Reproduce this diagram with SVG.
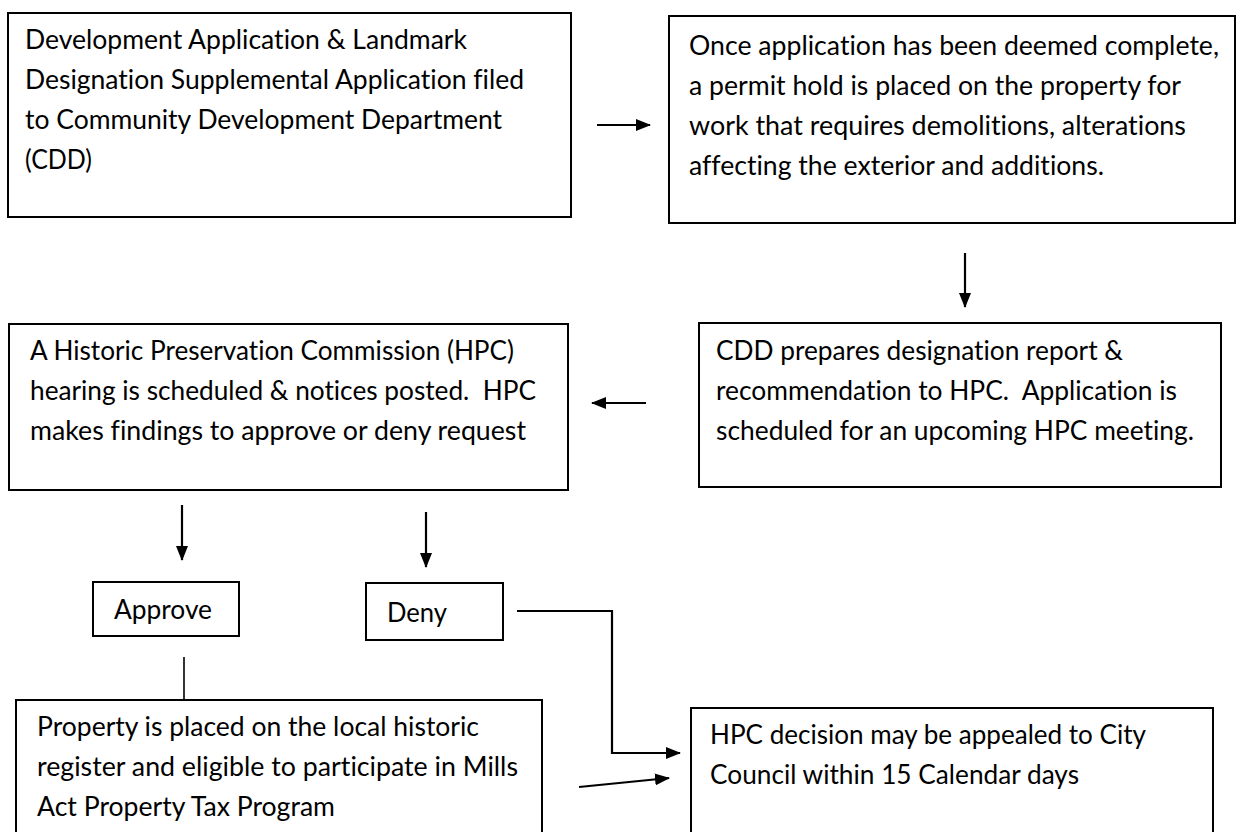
<svg xmlns="http://www.w3.org/2000/svg" width="1239" height="832" viewBox="0 0 1239 832">
<defs>
<style>
.box{fill:#fff;stroke:#000;stroke-width:2}
.t{font-family:Lato,"Liberation Sans",sans-serif;font-size:26px;fill:#000;white-space:pre;font-variant-ligatures:none;font-feature-settings:"liga" 0,"clig" 0,"dlig" 0}
.c{fill:none;stroke:#000;stroke-width:2.2}
</style>
<marker id="ah" markerUnits="userSpaceOnUse" markerWidth="15" markerHeight="12" refX="14" refY="6" orient="auto">
<path d="M0,0 L15,6 L0,12 Z" fill="#000"/>
</marker>
</defs>
<rect width="1239" height="832" fill="#fff"/>
<g id="connectors">
<line class="c" x1="597" y1="125" x2="650" y2="125" marker-end="url(#ah)"/>
<line class="c" x1="965" y1="253" x2="965" y2="307" marker-end="url(#ah)"/>
<line class="c" x1="646" y1="403" x2="592" y2="403" marker-end="url(#ah)"/>
<line class="c" x1="182" y1="505" x2="182" y2="560" marker-end="url(#ah)"/>
<line class="c" x1="426" y1="512" x2="426" y2="567" marker-end="url(#ah)"/>
<line class="c" x1="184" y1="657" x2="184" y2="700" style="stroke-width:1.6"/>
<polyline class="c" points="517,611 612,611 612,753 680,753" marker-end="url(#ah)"/>
<line class="c" x1="579" y1="787" x2="669" y2="778" marker-end="url(#ah)"/>
</g>
<g id="n1">
<rect class="box" x="8" y="13" width="563" height="204"/>
<text class="t" x="25" y="49" textLength="442" lengthAdjust="spacingAndGlyphs">Development Application &amp; Landmark</text>
<text class="t" x="25" y="89" textLength="499" lengthAdjust="spacingAndGlyphs">Designation Supplemental Application filed</text>
<text class="t" x="25" y="129" textLength="477" lengthAdjust="spacingAndGlyphs">to Community Development Department</text>
<text class="t" x="25" y="169" textLength="67" lengthAdjust="spacingAndGlyphs">(CDD)</text>
</g>
<g id="n2">
<rect class="box" x="669" y="16" width="566" height="207"/>
<text class="t" x="689" y="55" textLength="530" lengthAdjust="spacingAndGlyphs">Once application has been deemed complete,</text>
<text class="t" x="689" y="95" textLength="492" lengthAdjust="spacingAndGlyphs">a permit hold is placed on the property for</text>
<text class="t" x="689" y="135" textLength="497" lengthAdjust="spacingAndGlyphs">work that requires demolitions, alterations</text>
<text class="t" x="689" y="175" textLength="415" lengthAdjust="spacingAndGlyphs">affecting the exterior and additions.</text>
</g>
<g id="n3">
<rect class="box" x="699" y="323" width="522" height="164"/>
<text class="t" x="716" y="360" textLength="407" lengthAdjust="spacingAndGlyphs">CDD prepares designation report &amp;</text>
<text class="t" x="716" y="400" textLength="461" lengthAdjust="spacingAndGlyphs">recommendation to HPC.  Application is</text>
<text class="t" x="716" y="440" textLength="478" lengthAdjust="spacingAndGlyphs">scheduled for an upcoming HPC meeting.</text>
</g>
<g id="n4">
<rect class="box" x="9" y="324" width="559" height="166"/>
<text class="t" x="30" y="360" textLength="484" lengthAdjust="spacingAndGlyphs">A Historic Preservation Commission (HPC)</text>
<text class="t" x="30" y="400" textLength="506" lengthAdjust="spacingAndGlyphs">hearing is scheduled &amp; notices posted.  HPC</text>
<text class="t" x="30" y="440" textLength="496" lengthAdjust="spacingAndGlyphs">makes findings to approve or deny request</text>
</g>
<g id="n5">
<rect class="box" x="93" y="582" width="146" height="54"/>
<text class="t" x="114" y="619" textLength="98" lengthAdjust="spacingAndGlyphs">Approve</text>
</g>
<g id="n6">
<rect class="box" x="366" y="583" width="137" height="57"/>
<text class="t" x="387" y="622" textLength="60" lengthAdjust="spacingAndGlyphs">Deny</text>
</g>
<g id="n7">
<rect class="box" x="16" y="700" width="526" height="150"/>
<text class="t" x="37" y="736" textLength="442" lengthAdjust="spacingAndGlyphs">Property is placed on the local historic</text>
<text class="t" x="37" y="776" textLength="481" lengthAdjust="spacingAndGlyphs">register and eligible to participate in Mills</text>
<text class="t" x="37" y="816" textLength="298" lengthAdjust="spacingAndGlyphs">Act Property Tax Program</text>
</g>
<g id="n8">
<rect class="box" x="691" y="708" width="522" height="142"/>
<text class="t" x="710" y="744" textLength="436" lengthAdjust="spacingAndGlyphs">HPC decision may be appealed to City</text>
<text class="t" x="710" y="784" textLength="369" lengthAdjust="spacingAndGlyphs">Council within 15 Calendar days</text>
</g>
</svg>
